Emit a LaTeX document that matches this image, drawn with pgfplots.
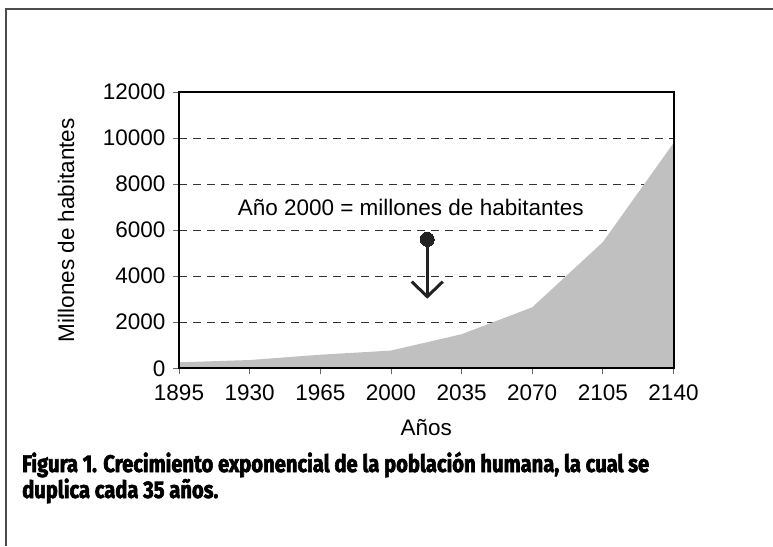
\documentclass[border=0pt]{standalone}
\usepackage{pgfplots}
\pgfplotsset{compat=1.18}
\usepackage{fontspec}
\setmainfont{Liberation Sans}
\newfontfamily\capfont[FakeStretch=0.84,FakeBold=2.5]{Fira Sans}
\definecolor{areagray}{HTML}{C0C0C0}
\definecolor{arrowcol}{HTML}{222222}
\begin{document}
\begin{tikzpicture}
\useasboundingbox (0,0) rectangle (773pt,546pt);
\draw[line width=1.2pt, black!70] (6pt,0pt) -- (6pt,537pt) -- (773pt,537pt);
\begin{axis}[
  at={(179pt,177.7pt)}, anchor=south west,
  scale only axis, width=494.5pt, height=276.3pt,
  xmin=1895, xmax=2140, ymin=0, ymax=12000,
  scaled y ticks=false, scaled x ticks=false,
  xtick={1895,1930,1965,2000,2035,2070,2105,2140},
  ytick={0,2000,4000,6000,8000,10000,12000},
  xticklabels={1895,1930,1965,2000,2035,2070,2105,2140},
  yticklabels={0,2000,4000,6000,8000,10000,12000},
  tick align=outside, xtick pos=left, ytick pos=left,
  major tick length=6pt,
  tick style={black!60, line width=0.8pt},
  ymajorgrids,
  grid style={black!80, line width=0.9pt, dash pattern=on 8pt off 6pt},
  axis line style={line width=2pt, black},
  ticklabel style={font=\fontsize{22.5}{26}\selectfont},
  /pgf/number format/assume math mode=true,
  yticklabel style={xshift=-4pt},
  xticklabel style={yshift=-7pt},
  label style={font=\fontsize{22.5}{26}\selectfont},
  xlabel={Años},
  ylabel={Millones de habitantes},
  xlabel style={at={(rel axis cs:0.5,-0.216)}, anchor=center},
  ylabel style={at={(rel axis cs:-0.2285,0.5)}, anchor=center},
  clip=false,
]
\addplot[fill=areagray, draw=none] coordinates {
  (1895,260) (1930,360) (1965,590) (2000,770) (2035,1480) (2070,2650) (2105,5480) (2140,9780)
} \closedcycle;
\draw[line width=2pt, black] (rel axis cs:0,0) rectangle (rel axis cs:1,1);
\node[font=\fontsize{22.5}{26}\selectfont] at (axis cs:2009.8,6970) {Año 2000 = millones de habitantes};
\addplot[arrowcol, line width=3pt] coordinates {(2018,5600) (2018,3113)};
\addplot[arrowcol, line width=3pt, line join=miter] coordinates {(2010.3,3765) (2018,3113) (2025.7,3765)};
\addplot[only marks, mark=*, mark size=7pt, arrowcol, mark options={line width=0pt}] coordinates {(2018,5600)};
\end{axis}
\node[anchor=base west, inner sep=0pt, font=\capfont\bfseries\fontsize{24}{28}\selectfont] at (22pt,74pt) {Figura 1. Crecimiento exponencial de la población humana, la cual se};
\node[anchor=base west, inner sep=0pt, font=\capfont\bfseries\fontsize{24}{28}\selectfont] at (22pt,48pt) {duplica cada 35 años.};
\end{tikzpicture}
\end{document}
